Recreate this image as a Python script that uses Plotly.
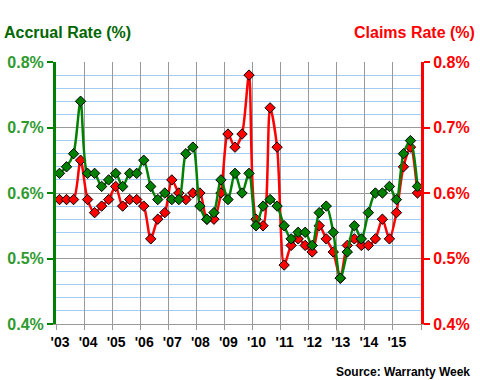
import plotly.graph_objects as go

years = list(range(2003, 2016))
quarters = [1, 2, 3, 4]
year_ticks = list(range(2003, 2017))
year_labels = ["'03", "'04", "'05", "'06", "'07", "'08", "'09", "'10", "'11", "'12", "'13", "'14", "'15", ""]

accrual_rate = [
    0.63, 0.64, 0.66, 0.74,
    0.63, 0.63, 0.61, 0.62,
    0.63, 0.61, 0.63, 0.63,
    0.65, 0.61, 0.59, 0.60,
    0.59, 0.59, 0.66, 0.67,
    0.58, 0.56, 0.57, 0.62,
    0.59, 0.63, 0.60, 0.63,
    0.55, 0.58, 0.59, 0.58,
    0.55, 0.53, 0.54, 0.54,
    0.52, 0.57, 0.58, 0.54,
    0.47, 0.51, 0.55, 0.53,
    0.57, 0.60, 0.60, 0.61,
    0.59, 0.66, 0.68, 0.61,
]
claims_rate = [
    0.59, 0.59, 0.59, 0.65,
    0.59, 0.57, 0.58, 0.59,
    0.61, 0.58, 0.59, 0.59,
    0.58, 0.53, 0.56, 0.57,
    0.62, 0.60, 0.59, 0.60,
    0.60, 0.56, 0.56, 0.60,
    0.69, 0.67, 0.69, 0.78,
    0.56, 0.55, 0.73, 0.67,
    0.49, 0.52, 0.53, 0.52,
    0.51, 0.55, 0.53, 0.51,
    0.47, 0.52, 0.53, 0.52,
    0.52, 0.53, 0.56, 0.53,
    0.57, 0.64, 0.67, 0.60,
]
pct_ticks = [0.4, 0.5, 0.6, 0.7, 0.8]
pct_labels = ["0.4%", "0.5%", "0.6%", "0.7%", "0.8%"]

# quarter midpoints on a continuous year axis
x_vals = [y + (q - 0.5) / 4 for y in years for q in quarters]

FONT = "Liberation Sans, Arial, sans-serif"
GREEN = "#008000"
RED = "#ff0000"

fig = go.Figure()
fig.add_trace(go.Scatter(
    x=x_vals, y=claims_rate, yaxis="y", mode="lines+markers",
    line=dict(color=RED, width=2.5, shape="spline", smoothing=0.8),
    marker=dict(symbol="diamond", size=8, color=RED, line=dict(color="black", width=1)),
    name="Claims Rate (%)",
))
fig.add_trace(go.Scatter(
    x=x_vals, y=accrual_rate, yaxis="y2", mode="lines+markers",
    line=dict(color=GREEN, width=2.5, shape="spline", smoothing=0.8),
    marker=dict(symbol="diamond", size=8, color=GREEN, line=dict(color="black", width=1)),
    name="Accrual Rate (%)",
))

fig.update_layout(
    width=480, height=380,
    margin=dict(l=56, r=59, t=62, b=56, autoexpand=False),
    plot_bgcolor="white", paper_bgcolor="white",
    showlegend=False,
    font=dict(family=FONT),
    xaxis=dict(
        range=[2003, 2016], tickmode="array", tickvals=year_ticks, ticktext=year_labels,
        showgrid=True, gridcolor="#999999", gridwidth=1,
        showline=True, linecolor="#999999", linewidth=1,
        ticks="outside", ticklen=5, tickcolor="#999999",
        tickfont=dict(family=FONT, size=14, color="black", weight="bold"),
        ticklabelshift=4, zeroline=False,
    ),
    yaxis=dict(
        range=[0.4, 0.8], side="right", tickmode="array", tickvals=pct_ticks, ticktext=pct_labels,
        showgrid=True, gridcolor="#999999", gridwidth=1,
        minor=dict(dtick=0.02, showgrid=True, gridcolor="#a3ccf5", gridwidth=1, ticks=""),
        showline=True, linecolor=RED, linewidth=3,
        ticks="outside", ticklen=6, tickwidth=2, tickcolor=RED,
        tickfont=dict(family=FONT, size=16, color=RED, weight="bold"),
        zeroline=False,
    ),
    yaxis2=dict(
        range=[0.4, 0.8], side="left", overlaying="y", tickmode="array",
        tickvals=pct_ticks, ticktext=pct_labels, showgrid=False,
        showline=True, linecolor=GREEN, linewidth=3,
        ticks="outside", ticklen=6, tickwidth=2, tickcolor=GREEN,
        tickfont=dict(family=FONT, size=16, color="#2f9a2f", weight="bold"),
        zeroline=False,
    ),
    annotations=[
        dict(text="Accrual Rate (%)", xref="paper", yref="paper", x=-0.148, y=1.111,
             xanchor="left", yanchor="middle", showarrow=False,
             font=dict(family=FONT, size=16, color="#006600", weight="bold")),
        dict(text="Claims Rate (%)", xref="paper", yref="paper", x=1.153, y=1.111,
             xanchor="right", yanchor="middle", showarrow=False,
             font=dict(family=FONT, size=16, color=RED, weight="bold")),
        dict(text="Source: Warranty Week", xref="paper", yref="paper", x=1.14, y=-0.182,
             xanchor="right", yanchor="middle", showarrow=False,
             font=dict(family=FONT, size=12, color="black", weight="bold")),
    ],
)

fig.write_html("out.html", config={"displayModeBar": False},
               post_script="document.body.style.margin='0';")
